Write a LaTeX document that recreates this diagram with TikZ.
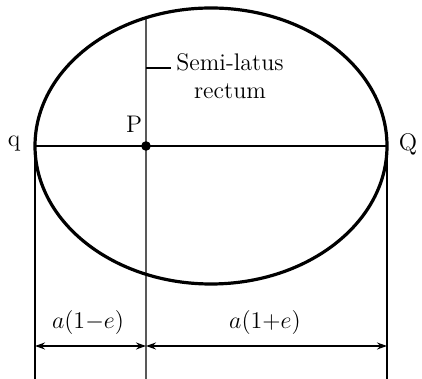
\documentclass[tikz,border=0pt]{standalone}
\usepackage{amsmath}
\usetikzlibrary{arrows.meta,calc}

\begin{document}
\begin{tikzpicture}[
  x=0.5pt, y=0.5pt,
  orbit/.style={line width=1.6pt},
  guide/.style={line width=0.7pt},
  dimarr/.style={{Stealth[length=5pt,width=3.5pt]}-{Stealth[length=5pt,width=3.5pt]}, line width=0.7pt},
  lbl/.style={font=\fontsize{12}{14}\selectfont, inner sep=1pt}
]
\useasboundingbox (0,0) rectangle (422,379);

% Ellipse, major axis and focus
\coordinate (C) at (211,233);
\coordinate (P) at (146,233);
\coordinate (qv) at (35,233);
\coordinate (Qv) at (387,233);
\coordinate (L) at ($(C)+(111.67:176 and 138)$);
\draw[orbit] (C) ellipse [x radius=176, y radius=138];
\draw[guide] (qv) -- (Qv);
\fill (P) circle [radius=2.4pt];

% Extension lines
\coordinate (qb) at (35,0);
\coordinate (Pb) at (146,0);
\coordinate (Qb) at (387,0);
\draw[guide] (L) -- (Pb);
\draw[guide] (qv) -- (qb);
\draw[guide] (Qv) -- (Qb);

% Labels
\node[lbl] (q) at (14,235) {q};
\node[lbl] (Q) at (408,235) {Q};
\node[lbl] (pl) at (134,255) {P};
\node[lbl, align=center] (slr) at (230,303) {Semi-latus\\rectum};
\coordinate (T) at (146,311);
\coordinate (Te) at (171,311);
\draw[guide] (T) -- (Te);

% Distances
\coordinate (D) at (0,33);
\draw[dimarr] (qv |- D) -- (P |- D);
\draw[dimarr] (P |- D) -- (Qv |- D);
\node[lbl] (d1) at (88,56) {$a(1{-}e)$};
\node[lbl] (d2) at (265,56) {$a(1{+}e)$};
\end{tikzpicture}
\end{document}
